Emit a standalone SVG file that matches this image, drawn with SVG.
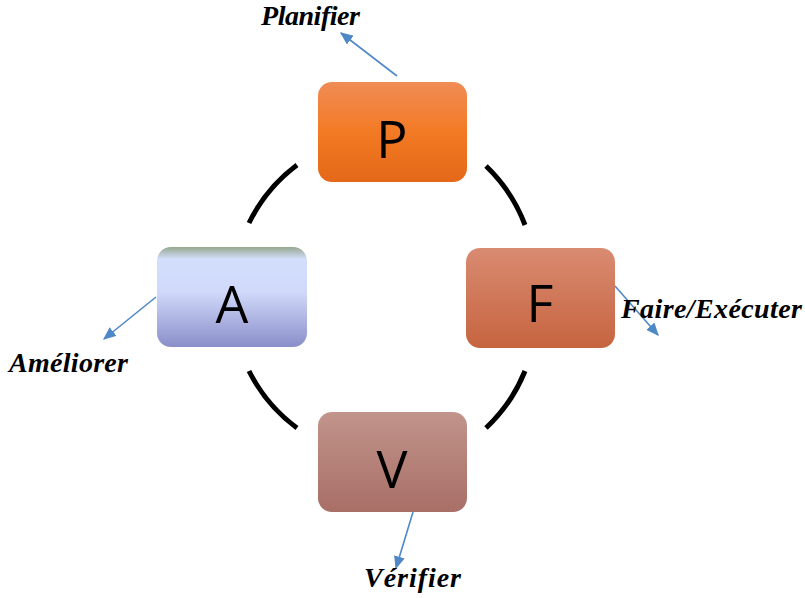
<svg xmlns="http://www.w3.org/2000/svg" width="805" height="598" viewBox="0 0 805 598">
<defs>
<linearGradient id="gP" x1="0" y1="0" x2="0" y2="1"><stop offset="0" stop-color="#f08c56"/><stop offset="0.5" stop-color="#f37a24"/><stop offset="1" stop-color="#e46818"/></linearGradient>
<linearGradient id="gA" x1="0" y1="0" x2="0" y2="1"><stop offset="0" stop-color="#96a88e"/><stop offset="0.12" stop-color="#d3defd"/><stop offset="0.45" stop-color="#d0d9fa"/><stop offset="1" stop-color="#8a8ec9"/></linearGradient>
<linearGradient id="gF" x1="0" y1="0" x2="0" y2="1"><stop offset="0" stop-color="#d98b72"/><stop offset="1" stop-color="#c66440"/></linearGradient>
<linearGradient id="gV" x1="0" y1="0" x2="0" y2="1"><stop offset="0" stop-color="#c1948c"/><stop offset="1" stop-color="#a86f66"/></linearGradient>
<marker id="ah" viewBox="0 0 10 10" refX="9" refY="5" markerWidth="13" markerHeight="11" markerUnits="userSpaceOnUse" orient="auto" preserveAspectRatio="none"><path d="M0,0 L10,5 L0,10 z" fill="#4f88c6"/></marker>
<style>
.box{stroke:none}
.let{font-family:"Open Sans","DejaVu Sans",sans-serif;font-size:52px;fill:#000;text-anchor:middle}
.lab{font-family:"Liberation Serif",serif;font-weight:bold;font-style:italic;font-size:28px;fill:#000}
.arc{fill:none;stroke:#000;stroke-width:5}
.arr{fill:none;stroke:#4f88c6;stroke-width:1.6;marker-end:url(#ah)}
</style>
</defs>
<g id="connectors">
<path class="arc" d="M 249 223 A 160 160 0 0 1 297 165"/>
<path class="arc" d="M 486 166 A 160 160 0 0 1 525 225"/>
<path class="arc" d="M 525 371 A 160 160 0 0 1 486 428"/>
<path class="arc" d="M 297 428 A 160 160 0 0 1 249 371"/>
<line class="arr" x1="397" y1="76" x2="341" y2="33"/>
<line class="arr" x1="615" y1="286" x2="658" y2="335"/>
<line class="arr" x1="413" y1="512" x2="396" y2="568"/>
<line class="arr" x1="156" y1="297" x2="104" y2="339"/>
</g>
<g id="node-P">
<rect class="box" x="318" y="82" width="149" height="100" rx="14" fill="url(#gP)"/>
<text class="let" x="392" y="158">P</text>
</g>
<g id="node-F">
<rect class="box" x="466" y="248" width="149" height="100" rx="14" fill="url(#gF)"/>
<text class="let" x="540" y="322">F</text>
</g>
<g id="node-V">
<rect class="box" x="318" y="412" width="149" height="100" rx="14" fill="url(#gV)"/>
<text class="let" x="392" y="488">V</text>
</g>
<g id="node-A">
<rect class="box" x="157" y="247" width="150" height="100" rx="14" fill="url(#gA)"/>
<text class="let" x="232" y="323">A</text>
</g>
<g id="labels">
<text class="lab" x="261" y="25" textLength="99" lengthAdjust="spacing">Planifier</text>
<text class="lab" x="621" y="318" textLength="181" lengthAdjust="spacing">Faire/Exécuter</text>
<text class="lab" x="364" y="587" textLength="97" lengthAdjust="spacing">Vérifier</text>
<text class="lab" x="9" y="372" textLength="119" lengthAdjust="spacing">Améliorer</text>
</g>
</svg>
